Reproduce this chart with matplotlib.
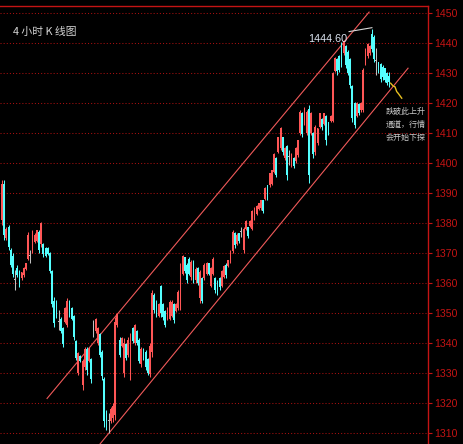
import numpy as np
import matplotlib
matplotlib.use("Agg")
import matplotlib.pyplot as plt

plt.rcParams['font.family'] = ['Noto Sans CJK SC', 'DejaVu Sans']

# 4-hour OHLC bars
opens = [
    1381, 1393, 1375, 1378.5, 1371, 1369, 1361, 1365, 1364, 1361.5,
    1362.5, 1364.5, 1368, 1369, 1371, 1373.5, 1374, 1377, 1373, 1373,
    1371.5, 1371.5, 1370, 1364, 1354, 1353, 1347, 1348, 1345, 1347,
    1346, 1354, 1351.5, 1349, 1340.5, 1330, 1335.5, 1326, 1332, 1338,
    1334, 1334.5, 1344, 1344, 1340, 1343, 1337, 1328, 1317, 1314,
    1314, 1315, 1316, 1346, 1341, 1339, 1330, 1339.5, 1336, 1330,
    1345, 1340, 1344, 1341, 1333, 1338, 1337, 1334.5, 1329.5, 1337,
    1356, 1353, 1349, 1359, 1353, 1350.5, 1348, 1348, 1349, 1353,
    1350.5, 1351.5, 1352, 1363, 1368.5, 1366, 1368, 1362, 1367, 1361,
    1365, 1355, 1361.5, 1361.5, 1363, 1366.5, 1359, 1363, 1361.5, 1360.5,
    1361.5, 1359, 1362, 1366, 1365.5, 1367, 1370.5, 1376.5, 1373, 1376.5,
    1377, 1371, 1378, 1378.5, 1379, 1378, 1381.5, 1383, 1384.5, 1385,
    1387.5, 1388, 1392.5, 1392.5, 1393, 1397, 1401.5, 1403.5, 1405, 1408.5,
    1401.5, 1405.5, 1402, 1399, 1401.5, 1400.5, 1402.5, 1410, 1416.5, 1413,
    1410, 1418, 1410, 1410, 1403.5, 1406.5, 1412, 1414.5, 1413, 1415.5,
    1413.5, 1414, 1414, 1430.5, 1434.5, 1435.5, 1440, 1436.5, 1439, 1437,
    1434.5, 1425.5, 1420, 1415.5, 1419.5, 1417.5, 1417.5, 1433, 1435.5, 1436.5,
    1443, 1442, 1434, 1433.5, 1433, 1432, 1431.5, 1430, 1429,
]
highs = [
    1394.3, 1394.3, 1378.7, 1379.3, 1371.7, 1370, 1364.3, 1366, 1364.3, 1363.7,
    1365.3, 1366.7, 1377, 1371, 1377.7, 1376.7, 1377.7, 1377.7, 1380.3, 1373.3,
    1372, 1372, 1370.3, 1364.3, 1355.3, 1354.3, 1351, 1348.7, 1345.3, 1352,
    1355, 1354.3, 1352, 1349.3, 1341, 1337, 1336, 1334.7, 1338.7, 1338.7,
    1338.7, 1335, 1347.7, 1348.3, 1345.3, 1343.3, 1337.7, 1328.7, 1317.7, 1316.7,
    1318.7, 1320, 1348.7, 1350, 1342, 1342, 1341.7, 1340, 1342, 1343.3,
    1345.3, 1346.3, 1344.3, 1341.7, 1338.7, 1338.3, 1337.7, 1335, 1340, 1357.7,
    1356.7, 1354.3, 1353.3, 1359.3, 1353.3, 1351, 1352, 1354.3, 1354.3, 1353.3,
    1353.3, 1357.7, 1366.7, 1369.3, 1368.7, 1366.7, 1368.7, 1367.7, 1367.7, 1365.3,
    1365.3, 1364.3, 1362, 1366.7, 1367, 1366.7, 1365.3, 1368.7, 1362, 1361,
    1362, 1364.3, 1366, 1366.7, 1367.7, 1371, 1377.7, 1377, 1376.7, 1376.7,
    1378.7, 1378.7, 1381, 1378.7, 1381, 1384.3, 1385.3, 1386, 1386.7, 1387.7,
    1387.7, 1392, 1392.7, 1396.7, 1397.7, 1403.3, 1402, 1408.7, 1412, 1408.7,
    1405.3, 1406, 1404.3, 1403.3, 1402, 1405.3, 1407.7, 1417.7, 1417, 1418.7,
    1417.7, 1419.3, 1417, 1410.3, 1412.7, 1411.7, 1416.7, 1415, 1416.7, 1416,
    1413.7, 1416, 1430.3, 1435.3, 1435, 1436, 1440.3, 1441, 1439.3, 1437.7,
    1435, 1426, 1420.3, 1420.3, 1420, 1420.3, 1431.7, 1438.3, 1440, 1439.3,
    1444.6, 1442.7, 1438.3, 1433.7, 1433.3, 1432.7, 1431.7, 1430.3, 1430.3,
]
lows = [
    1379.3, 1374.3, 1374.3, 1371, 1365.3, 1362, 1357.7, 1362, 1358.7, 1361,
    1362, 1364.3, 1367.7, 1366.7, 1370, 1373.3, 1373.7, 1370, 1372, 1368.7,
    1368.7, 1369.3, 1363.3, 1352, 1345.3, 1348.3, 1344.3, 1343.3, 1338.7, 1346.7,
    1345.3, 1348.7, 1347.7, 1341, 1334.3, 1329.3, 1333.7, 1324.3, 1331, 1329.3,
    1333.7, 1326.7, 1342, 1343.3, 1339.3, 1335.3, 1327.7, 1312, 1311, 1310,
    1313.3, 1313.7, 1314.3, 1345.3, 1335.3, 1338.7, 1328.7, 1334.3, 1335.3, 1327.7,
    1340, 1339.3, 1339.3, 1333.3, 1332, 1334.3, 1331, 1329.3, 1328.7, 1335.3,
    1350, 1348.7, 1348.7, 1348.7, 1347.7, 1345.3, 1347.7, 1347.7, 1348.7, 1346.7,
    1350.3, 1351, 1351, 1362.7, 1363.3, 1360, 1362.7, 1361, 1360, 1360,
    1359.3, 1353.3, 1353.3, 1361, 1362.7, 1362.7, 1358.7, 1362.7, 1356.7, 1356,
    1357.7, 1358.7, 1361.7, 1361.7, 1365.3, 1366.7, 1370, 1371.7, 1372.7, 1373.3,
    1375.3, 1370, 1377.7, 1375, 1378.7, 1377.7, 1381, 1382.7, 1384.3, 1384.3,
    1383.3, 1387.7, 1387.7, 1392, 1392.7, 1396.7, 1395.3, 1403.3, 1404.3, 1402.7,
    1401, 1394.3, 1399.3, 1398.7, 1398.3, 1400, 1402, 1409.3, 1408.7, 1412.7,
    1409.3, 1393.3, 1409.3, 1401.7, 1402.7, 1406, 1411.7, 1411, 1412.7, 1406,
    1409.3, 1413.7, 1413.7, 1430.3, 1429.3, 1430.3, 1432, 1436, 1431.7, 1429.3,
    1425, 1413.7, 1411.7, 1415.3, 1416, 1417, 1417, 1432.7, 1435, 1436,
    1437, 1433.7, 1429.3, 1430, 1427, 1427.7, 1427, 1426, 1425.3,
]
closes = [
    1393, 1376, 1378, 1372, 1366, 1363, 1361, 1362.5, 1360, 1363.5,
    1365, 1366.5, 1376, 1369, 1376.5, 1376, 1377.5, 1371, 1380, 1369.5,
    1369, 1369.5, 1364, 1353, 1346.5, 1349, 1347, 1344, 1339.5, 1351.5,
    1354, 1349.5, 1348, 1342, 1335, 1336.5, 1334, 1334, 1338, 1331,
    1338, 1328, 1344, 1348, 1345, 1336, 1329, 1314, 1312, 1314,
    1318, 1319, 1347, 1349.5, 1336, 1341.5, 1340, 1335, 1341, 1342.5,
    1340.5, 1346, 1340, 1334, 1338, 1335, 1332, 1330, 1339, 1356.5,
    1351, 1349.5, 1353, 1350, 1348.5, 1346, 1351.5, 1353.5, 1353.5, 1347.5,
    1353, 1357, 1366, 1369, 1364, 1361, 1363, 1367, 1361, 1364.5,
    1360, 1363.5, 1354, 1366, 1366.5, 1363, 1365, 1368, 1357.5, 1356.5,
    1358.5, 1364, 1365.5, 1362.5, 1367.5, 1370.5, 1377, 1372.5, 1376, 1374,
    1377, 1378, 1380.5, 1375.5, 1380.8, 1384, 1385, 1385.5, 1386.5, 1387.5,
    1384, 1391.5, 1388.5, 1396.5, 1397.5, 1403, 1396, 1408.5, 1411.5, 1403.5,
    1405, 1396, 1402, 1403, 1399, 1405, 1407.5, 1417, 1409.5, 1418.3,
    1417, 1396, 1416.5, 1403, 1412, 1411.5, 1416.5, 1412, 1416.5, 1407.5,
    1410, 1415.7, 1430, 1435, 1430.5, 1431, 1433, 1440.5, 1432.5, 1430,
    1426, 1415, 1412.5, 1420, 1416.5, 1420, 1431, 1438, 1439.5, 1439,
    1438, 1434.5, 1434, 1430.5, 1428, 1428.5, 1427.5, 1426.5, 1427,
]

# rising-channel boundaries (bar index, price)
upper_x = [20.7, 168.7]
upper_y = [1321.5, 1450.3]
lower_x = [45.0, 186.6]
lower_y = [1306.3, 1431.6]

# projected break-down squiggle after the last bar
proj_x = [178.6, 179.8, 180.6, 181.4, 182.1, 183.7]
proj_y = [1426.6, 1425.6, 1425.4, 1423.8, 1423.2, 1421.6]

price_ticks = list(range(1310, 1451, 10))
title = "4 小时 K 线图"
note_lines = ["跌破此上升", "通道，行情", "会开始下探"]

O = np.array(opens); H = np.array(highs); L = np.array(lows); C = np.array(closes)
n = len(O)
x = np.arange(n)

UP = '#ff5656'
DOWN = '#54ffff'
FLAT = '#c0c0c0'
AXIS_RED = '#c41414'
GRID_RED = '#a81010'

W, Hh = 463, 444
fig = plt.figure(figsize=(W / 100, Hh / 100), dpi=100, facecolor='black')
ax = fig.add_axes([0, 0, 428 / W, 438 / Hh])
ax.set_facecolor('black')

step = 2.176  # pixels per bar
ax.set_xlim(-2 / step, (428 - 2) / step)
ax.set_ylim(1306.33, 1452.33)

for s in ('left', 'bottom'):
    ax.spines[s].set_visible(False)
for s in ('top', 'right'):
    ax.spines[s].set_color(AXIS_RED)
    ax.spines[s].set_linewidth(1.0)

ax.set_xticks([])
ax.yaxis.tick_right()
ax.set_yticks(price_ticks)
ax.set_yticklabels([str(t) for t in price_ticks], family='Liberation Sans')
ax.tick_params(axis='y', colors=AXIS_RED, labelcolor=AXIS_RED, length=3,
               width=0.8, labelsize=7.6, pad=1.5)

for t in price_ticks:
    ax.axhline(t, color=GRID_RED, lw=0.75, ls=(0, (1, 2)), zorder=1)

cols = np.where(C > O, UP, np.where(C < O, DOWN, FLAT))
ax.vlines(x, L, H, colors=cols, lw=0.75, zorder=3)
body_lo = np.minimum(O, C)
body_h = np.maximum(np.abs(C - O), 0.25)
ax.bar(x, body_h, bottom=body_lo, width=0.8, color=cols, linewidth=0, zorder=3)

ax.plot(upper_x, upper_y, color='#f05a5a', lw=0.8, zorder=2)
ax.plot(lower_x, lower_y, color='#f05a5a', lw=0.8, zorder=2)
ax.plot(proj_x, proj_y, color='#e8c020', lw=1.0, zorder=4)

# peak marker
pk = int(np.argmax(H))
ax.plot([pk - 10.5, pk], [H[pk] - 0.8, H[pk] + 0.5], color='#d8d8d8', lw=0.8, zorder=4)
ax.text(pk - 11.3, H[pk] - 3.3, f"{H[pk]:.2f}", color='#dce4f0', fontsize=7.8,
        family='Liberation Sans', ha='right', va='center', zorder=5)

fig.text(13 / W, 1 - 32 / Hh, title, color='#d4d4d4', fontsize=7.8,
         ha='left', va='center')

for k, line in enumerate(note_lines):
    fig.text(386 / W, 1 - (111 + 13 * k) / Hh, line, color='#c8c8c8',
             fontsize=5.8, ha='left', va='center')

fig.savefig('out.png', dpi=100, facecolor='black')
